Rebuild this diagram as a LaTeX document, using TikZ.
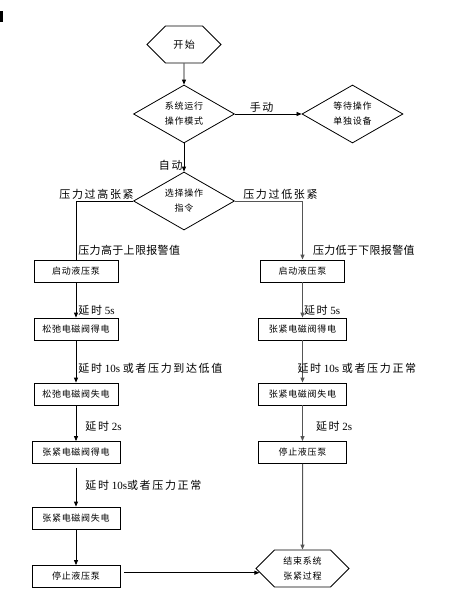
\documentclass[tikz,border=0pt]{standalone}
\usepackage{fontspec}
\setmainfont{Liberation Serif}
\newfontfamily\bxfont[LetterSpace=8]{Noto Sans CJK SC}
\newfontfamily\lbfont[LetterSpace=15]{Noto Sans CJK SC}
\newfontfamily\lbfontn[LetterSpace=3]{Noto Sans CJK SC}
\usetikzlibrary{arrows.meta, shapes.geometric, shapes.symbols, calc}
\definecolor{lgry}{RGB}{85,85,85}
\tikzset{
  % process box
  PBox/.style={rectangle,draw=black,line width=0.8pt,minimum width=#1,
               minimum height=22pt,inner sep=0pt,
               font=\bxfont\fontsize{9}{15}\selectfont},
  PBox/.default=88pt,
  % decision diamond
  DC/.style={diamond,draw=black,line width=0.8pt,aspect=1.74,
             minimum width=101pt,minimum height=58pt,inner sep=0pt,
             align=center,font=\bxfont\fontsize{9}{15}\selectfont},
  % start / end terminal
  TM/.style={signal,signal to=east and west,signal pointer angle=90,
             draw=black,line width=0.8pt,minimum width=#1,
             minimum height=37pt,inner sep=0pt,align=left,
             font=\bxfont\fontsize{9}{15}\selectfont},
  TM/.default=93pt,
  % arrows
  Arr/.style={-{Triangle[length=5pt,width=4pt]},line width=0.8pt},
  RArr/.style={Arr,color=lgry,line width=1pt},
  Lbl/.style={font=\fontsize{11}{13}\selectfont,inner sep=1pt},
}
\begin{document}
\begin{tikzpicture}[x=1pt,y=-1pt]
  \useasboundingbox (0,0) rectangle (469,603);
  \fill (0,11) rectangle (2.5,22);
  % start and mode selection
  \node[TM=74pt,font=\lbfont\fontsize{10}{12}\selectfont]
        at (184,44.5) (st) {开始};
  \node[DC] at (184,114) (mode) {系统运行\\操作模式};
  \node[DC] at (352.5,114) (wait) {等待操作\\单独设备};
  \node[DC] at (184,201) (sel) {选择操作\\指令};
  \draw[Arr] (st) -- (mode);
  \draw[Arr] (mode) -- node[Lbl,pos=0.4,above]{\lbfont 手动} (wait);
  \draw[Arr] (mode) -- node[Lbl,pos=0.77,left]{\lbfont 自动} (sel);
  % left column: pressure too high
  \node[PBox=84pt] at (76,271)   (l1) {启动液压泵};
  \node[PBox=84pt] at (76,329)   (l2) {松弛电磁阀得电};
  \node[PBox=84pt] at (76,394)   (l3) {松弛电磁阀失电};
  \node[PBox]      at (76,452.5) (l4) {张紧电磁阀得电};
  \node[PBox]      at (76,518)   (l5) {张紧电磁阀失电};
  \node[PBox]      at (76,576.5) (l6) {停止液压泵};
  \draw[line width=0.8pt] (sel.west) -|
        node[Lbl,pos=0.32,above]{\lbfont 压力过高张紧}
        node[Lbl,pos=0.925,right,xshift=1pt]{\lbfontn 压力高于上限报警值} (l1.north);
  \draw[Arr] (l1) -- node[Lbl,pos=0.8,right,xshift=1pt]{{\lbfont 延时} 5s} (l2);
  \draw[Arr] (l2) -- node[Lbl,pos=0.67,right,xshift=1pt]
        {{\lbfont 延时} 10s {\lbfont 或者压力到达低值}} (l3);
  \draw[Arr] (l3) -- node[Lbl,pos=0.6,right,xshift=8pt]{{\lbfont 延时} 2s} (l4);
  \draw[Arr,shorten <=4pt] (l4) -- node[Lbl,pos=0.5,right,xshift=8pt]
        {{\lbfont 延时} 10s{\lbfont 或者压力正常}} (l5);
  \draw[Arr] (l5) -- (l6);
  % right column: pressure too low
  \node[PBox=84pt] at (302.5,271)   (r1) {启动液压泵};
  \node[PBox]      at (302.5,329)   (r2) {张紧电磁阀得电};
  \node[PBox]      at (302.5,394)   (r3) {张紧电磁阀失电};
  \node[PBox]      at (302.5,452.5) (r4) {停止液压泵};
  \node[TM] at (302.5,568.5) (e) {结束系统\\张紧过程};
  \draw[RArr] (sel.east) -|
        node[Lbl,pos=0.337,above,text=black]{\lbfont 压力过低张紧}
        node[Lbl,pos=0.925,right,xshift=9pt,text=black]{\lbfontn 压力低于下限报警值} (r1.north);
  \draw[RArr] (r1) -- node[Lbl,pos=0.8,right,text=black]{{\lbfont 延时} 5s} (r2);
  \draw[RArr] (r2) -- node[Lbl,pos=0.67,right,xshift=-6.5pt,text=black]
        {{\lbfont 延时} 10s {\lbfont 或者压力正常}} (r3);
  \draw[RArr] (r3) -- node[Lbl,pos=0.6,right,xshift=12pt,text=black]{{\lbfont 延时} 2s} (r4);
  \draw[RArr] (r4) -- (e);
  % to the end terminal
  \coordinate (a6) at ($(l6.east)+(4,-3.8)$);
  \draw[Arr] (a6) -- ($(a6 -| e.west)+(4,0)$);
\end{tikzpicture}
\end{document}
